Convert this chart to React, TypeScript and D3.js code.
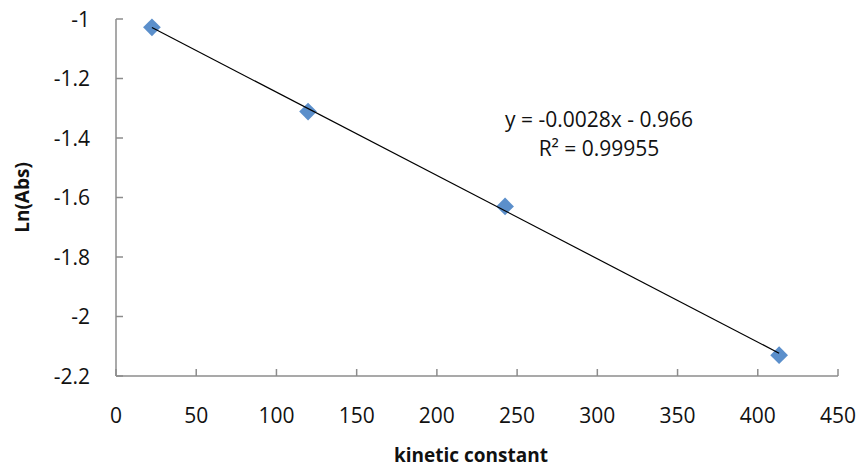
// scatter of ln(abs) vs kinetic constant with a linear trendline
import * as d3 from 'd3';
import React, { useEffect, useRef } from 'react';

const kineticConstant = [22.4, 119.7, 242.5, 413.3];
const lnAbs = [-1.028, -1.311, -1.630, -2.130];
const xTicks = [0, 50, 100, 150, 200, 250, 300, 350, 400, 450];
const yTicks = [-1, -1.2, -1.4, -1.6, -1.8, -2, -2.2];
// trendline coefficients as printed on the chart
const slope = -0.0028;
const intercept = -0.966;
const equationLines = ['y = -0.0028x - 0.966', 'R² = 0.99955'];

const App = () => {
  const svgRef = useRef(null);

  useEffect(() => {
    document.body.style.margin = '0';
    const svg = d3.select(svgRef.current);
    svg.selectAll('*').remove();

    const font = "'Open Sans', 'Liberation Sans', sans-serif";
    const axisColor = '#8c8c8c';

    const x = d3.scaleLinear().domain([0, 450]).range([116, 838]);
    const y = d3.scaleLinear().domain([-2.2, -1]).range([376, 19]);

    //y axis line + inward ticks
    svg
      .append('line')
      .attr('x1', x(0))
      .attr('x2', x(0))
      .attr('y1', y(-1))
      .attr('y2', y(-2.2))
      .attr('stroke', axisColor)
      .attr('stroke-width', 1.5);

    svg
      .selectAll('.ytick')
      .data(yTicks)
      .enter()
      .append('line')
      .attr('class', 'ytick')
      .attr('x1', x(0))
      .attr('x2', x(0) + 7)
      .attr('y1', (d) => y(d))
      .attr('y2', (d) => y(d))
      .attr('stroke', axisColor)
      .attr('stroke-width', 1.5);

    svg
      .selectAll('.ylabel')
      .data(yTicks)
      .enter()
      .append('text')
      .attr('class', 'ylabel')
      .attr('x', 90)
      .attr('y', (d) => y(d))
      .attr('dy', '0.36em')
      .attr('text-anchor', 'end')
      .attr('font-family', font)
      .attr('font-size', 21)
      .attr('fill', '#111')
      .text((d) => String(d));

    //x axis line + upward ticks
    svg
      .append('line')
      .attr('x1', x(0))
      .attr('x2', x(450))
      .attr('y1', y(-2.2))
      .attr('y2', y(-2.2))
      .attr('stroke', axisColor)
      .attr('stroke-width', 1.5);

    svg
      .selectAll('.xtick')
      .data(xTicks)
      .enter()
      .append('line')
      .attr('class', 'xtick')
      .attr('x1', (d) => x(d))
      .attr('x2', (d) => x(d))
      .attr('y1', y(-2.2))
      .attr('y2', y(-2.2) - 7)
      .attr('stroke', axisColor)
      .attr('stroke-width', 1.5);

    svg
      .selectAll('.xlabel')
      .data(xTicks)
      .enter()
      .append('text')
      .attr('class', 'xlabel')
      .attr('x', (d) => x(d))
      .attr('y', 423)
      .attr('text-anchor', 'middle')
      .attr('font-family', font)
      .attr('font-size', 21)
      .attr('fill', '#111')
      .text((d) => String(d));

    //trendline across the data range
    const xMin = d3.min(kineticConstant);
    const xMax = d3.max(kineticConstant);

    //diamond markers
    const diamond = d3.symbol().type(d3.symbolDiamond2).size(200);
    svg
      .selectAll('.point')
      .data(kineticConstant)
      .enter()
      .append('path')
      .attr('class', 'point')
      .attr('d', diamond)
      .attr('transform', (d, i) => `translate(${x(d)}, ${y(lnAbs[i])})`)
      .attr('fill', '#5b8fcb');

    //line sits on top of the markers like excel does
    svg
      .append('line')
      .attr('x1', x(xMin))
      .attr('y1', y(slope * xMin + intercept))
      .attr('x2', x(xMax))
      .attr('y2', y(slope * xMax + intercept))
      .attr('stroke', '#000')
      .attr('stroke-width', 1.2);

    //equation label
    svg
      .selectAll('.eq')
      .data(equationLines)
      .enter()
      .append('text')
      .attr('class', 'eq')
      .attr('x', 599)
      .attr('y', (d, i) => 127 + i * 29)
      .attr('text-anchor', 'middle')
      .attr('font-family', font)
      .attr('font-size', 21)
      .attr('fill', '#111')
      .text((d) => d);

    //axis titles
    svg
      .append('text')
      .attr('x', 471)
      .attr('y', 462)
      .attr('text-anchor', 'middle')
      .attr('font-family', font)
      .attr('font-weight', 'bold')
      .attr('font-size', 19)
      .attr('fill', '#111')
      .text('kinetic constant');

    svg
      .append('text')
      .attr('transform', `translate(29, ${(y(-1) + y(-2.2)) / 2}) rotate(-90)`)
      .attr('text-anchor', 'middle')
      .attr('font-family', font)
      .attr('font-weight', 'bold')
      .attr('font-size', 19)
      .attr('fill', '#111')
      .text('Ln(Abs)');
  }, []);

  return <svg ref={svgRef} width={860} height={469} style={{ display: 'block', background: '#fff' }}></svg>;
};

export default App;
